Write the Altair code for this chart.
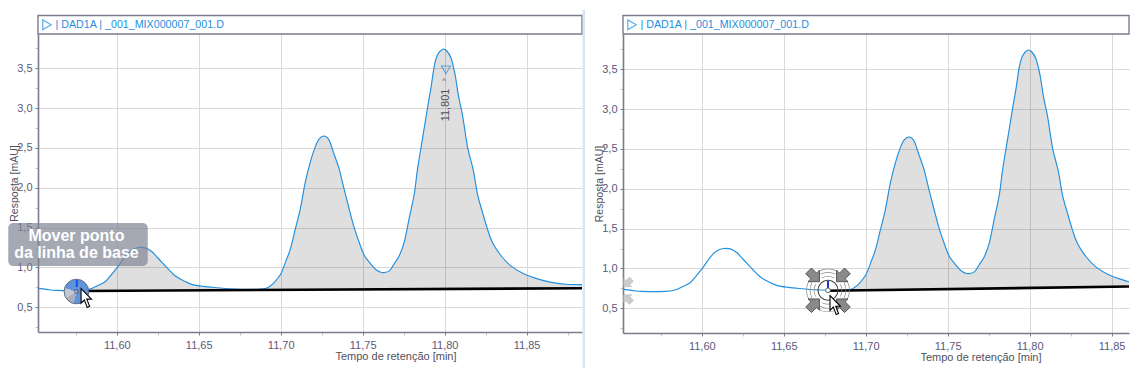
import altair as alt
import pandas as pd

# --- chromatogram trace
trace_t = [11.5522, 11.5573, 11.5634, 11.5776, 11.5837, 11.5878, 11.5929, 11.597, 11.601, 11.605,
           11.6091, 11.6132, 11.6173, 11.6213, 11.6254, 11.6305, 11.6356, 11.6407, 11.6457, 11.6528,
           11.661, 11.6691, 11.6762, 11.6854, 11.6905, 11.6929, 11.696, 11.70, 11.703, 11.706,
           11.709, 11.712, 11.715, 11.718, 11.721, 11.7234, 11.7264, 11.7295, 11.7325, 11.7356,
           11.7386, 11.7417, 11.7447, 11.7478, 11.7508, 11.7539, 11.758, 11.7605, 11.763, 11.7665, 11.769,
           11.7724, 11.7754, 11.7785, 11.7815, 11.7835, 11.7866, 11.7896, 11.7917, 11.7937, 11.7957,
           11.7988, 11.8012, 11.8039, 11.8063, 11.8085, 11.811, 11.814, 11.8175, 11.82, 11.823,
           11.826, 11.829, 11.8343, 11.8404, 11.8486, 11.8577, 11.866, 11.874, 11.8838]
trace_r = [0.7375, 0.725, 0.7125, 0.7125, 0.73, 0.767, 0.82, 0.917, 1.02, 1.1375,
           1.22, 1.25, 1.246, 1.20, 1.1125, 1.0, 0.896, 0.833, 0.7875, 0.7625,
           0.746, 0.733, 0.727, 0.725, 0.735, 0.758, 0.81, 0.917, 1.07, 1.24,
           1.49, 1.74, 2.07, 2.32, 2.51, 2.61, 2.65, 2.60, 2.425, 2.24,
           1.99, 1.74, 1.51, 1.32, 1.16, 1.07, 0.975, 0.945, 0.935, 0.96, 1.04,
           1.15, 1.32, 1.63, 1.925, 2.24, 2.63, 3.01, 3.26, 3.53, 3.67,
           3.74, 3.72, 3.63, 3.43, 3.15, 2.90, 2.51, 2.22, 1.925, 1.70,
           1.49, 1.32, 1.15, 1.02, 0.917, 0.85, 0.81, 0.79, 0.785]

header_label = "| DAD1A | _001_MIX000007_001.D"
x_title = "Tempo de retenção [min]"
y_title = "Resposta [mAU]"
y_ticks = [0.25, 0.5, 0.75, 1.0, 1.25, 1.5, 1.75, 2.0, 2.25, 2.5, 2.75, 3.0, 3.25, 3.5, 3.75]
x_ticks_left = [11.575, 11.6, 11.625, 11.65, 11.675, 11.7, 11.725, 11.75, 11.775, 11.8, 11.825, 11.85, 11.875]
x_ticks_right = [11.575, 11.6, 11.625, 11.65, 11.675, 11.7, 11.725, 11.75, 11.775, 11.8, 11.825, 11.85]

# panel-specific settings, in data units
left_x = [11.55195, 11.8838]
left_y = [0.19, 3.9305]
right_x = [11.55195, 11.8606]
right_y = [0.19, 3.943]
left_base = [11.5787, 0.705, 11.8838, 0.74]
right_base = [11.677, 0.72, 11.8667, 0.775]

BLUE = "#1f8fdf"
FONT = "Liberation Sans"
AXIS = "#787c8e"


def panel(domain_x, domain_y, ticks, base):
    trace = pd.DataFrame({"x": trace_t, "y": trace_r})
    major_x = "abs(round(datum.value*1000) % 50) < 1"
    major_y = "abs(round(datum.value*100) % 50) < 1"
    ax = alt.Axis(values=ticks, grid=True, gridColor="#d9d9d9", gridWidth=1,
                  gridOpacity=alt.expr(f"{major_x} ? 1 : 0"),
                  labelExpr=f"{major_x} ? replace(format(datum.value,'.2f'),'.',',') : ''",
                  labelFont=FONT, labelFontSize=11, labelColor="#5b587a", labelPadding=4,
                  tickSize=3, tickColor=alt.expr(f"{major_x} ? '#787c8e' : '#c4c4c4'"),
                  domainColor=AXIS, domainWidth=1.6, title=x_title, titleFont=FONT,
                  titleFontSize=11, titleFontWeight="normal", titleColor="#50505c",
                  titleX=357.5, titleY=18, labelOverlap=False)
    ay = alt.Axis(values=y_ticks, grid=True, gridColor="#d9d9d9", gridWidth=1,
                  gridOpacity=alt.expr(f"{major_y} ? 1 : 0"),
                  labelExpr=f"{major_y} ? replace(format(datum.value,'.1f'),'.',',') : ''",
                  labelFont=FONT, labelFontSize=11, labelColor="#5b587a", labelPadding=3,
                  tickSize=3, tickColor=alt.expr(f"{major_y} ? '#787c8e' : '#c4c4c4'"),
                  domainColor=AXIS, domainWidth=1.6, title=y_title, titleFont=FONT,
                  titleFontSize=10.5, titleFontWeight="normal", titleColor="#50505c",
                  titleX=-19, labelOverlap=False)
    x_enc = alt.X("x:Q", scale=alt.Scale(domain=domain_x, nice=False, zero=False), axis=ax)
    y_enc = alt.Y("y:Q", scale=alt.Scale(domain=domain_y, nice=False, zero=False), axis=ay)
    x0, y0, x1, y1 = base
    calc = f"{y0}+(datum.x-{x0})*({y1}-{y0})/({x1}-{x0})"

    area = (alt.Chart(trace).transform_filter(f"datum.x>={x0}").transform_calculate(b=calc)
            .mark_area(color="#000000", opacity=0.125, clip=True, interpolate="cardinal")
            .encode(x=x_enc, y=y_enc, y2="b:Q"))
    line = alt.Chart(trace).mark_line(color=BLUE, strokeWidth=1.15, clip=True, interpolate="cardinal").encode(x=x_enc, y=y_enc)
    baseline = (alt.Chart(pd.DataFrame({"x": [x0, x1], "y": [y0, y1]}))
                .mark_line(color="#000000", strokeWidth=2.6, clip=True).encode(x=x_enc, y=y_enc))

    # header strip above the plot
    head_top = domain_y[1] + 18.5 / 79.67
    head = (alt.Chart(pd.DataFrame({"x": [domain_x[0]], "x2": [domain_x[1]], "y": [domain_y[1]], "y2": [head_top]}))
            .mark_rect(fill="#ffffff", stroke=AXIS, strokeWidth=1.4).encode(x=x_enc, x2="x2:Q", y=y_enc, y2="y2:Q"))
    head_y = (domain_y[1] + head_top) / 2
    tri = (alt.Chart(pd.DataFrame({"x": [domain_x[0] + 9 / 1640], "y": [head_y]}))
           .mark_point(shape="triangle-right", size=95, color=BLUE, strokeWidth=1.2, filled=False)
           .encode(x=x_enc, y=y_enc))
    head_txt = (alt.Chart(pd.DataFrame({"x": [domain_x[0] + 17.5 / 1640], "y": [head_y], "t": [header_label]}))
                .mark_text(align="left", baseline="middle", font=FONT, fontSize=10.7, color=BLUE)
                .encode(x=x_enc, y=y_enc, text="t:N"))
    return [head, area, line, baseline, tri, head_txt], x_enc, y_enc


PATH_CURSOR = "M-0.6,-1 L-0.6,0.55 L-0.25,0.2 L0.05,1 L0.3,0.88 L0,0.12 L0.5,0.12 Z"
PATH_ARROW = "M0,-1 L1,0 L0.5,0 L0.5,0.9 L-0.5,0.9 L-0.5,0 L-1,0 Z"


def arcs(df, x_enc, y_enc):
    return alt.Chart(df).mark_arc().encode(
        x=x_enc, y=y_enc,
        theta=alt.Theta("t:Q", scale=None), theta2="t2:Q",
        radius=alt.Radius("r:Q", scale=None), radius2="r2:Q",
        color=alt.Color("c:N", scale=None))


def cursor(xv, yv, x_enc, y_enc):
    return (alt.Chart(pd.DataFrame({"x": [xv], "y": [yv]}))
            .mark_point(shape=PATH_CURSOR, size=360, filled=True, fill="#ffffff", stroke="#000000", strokeWidth=1.1, opacity=1)
            .encode(x=x_enc, y=y_enc))


# ---------- left panel
layers_l, xl, yl = panel(left_x, left_y, x_ticks_left, left_base)

sep = (alt.Chart(pd.DataFrame({"x": [11.8849], "y": [left_y[1] + 24.5 / 79.67], "y2": [left_y[0] - 36 / 79.67]}))
       .mark_rule(color="#dbe5f1", strokeWidth=2.5).encode(x=xl, y=yl, y2="y2:Q"))
peak_tri = (alt.Chart(pd.DataFrame({"x": [11.8008], "y": [3.48]}))
            .mark_point(shape="triangle-down", size=80, color=BLUE, strokeWidth=1.1, filled=False).encode(x=xl, y=yl))
peak_txt = (alt.Chart(pd.DataFrame({"x": [11.8007], "y": [3.04], "t": ["11,801"]}))
            .mark_text(angle=270, font=FONT, fontSize=11, color="#50505c", baseline="middle").encode(x=xl, y=yl, text="t:N"))
peak_car = (alt.Chart(pd.DataFrame({"x": [11.7995], "y": [3.34], "t": ["^"]}))
            .mark_text(font=FONT, fontSize=8, color="#50505c", baseline="middle").encode(x=xl, y=yl, text="t:N"))
box = (alt.Chart(pd.DataFrame({"x": [11.5338], "x2": [11.6189], "y": [1.018], "y2": [1.558]}))
       .mark_rect(fill="#7f8594", opacity=0.7, cornerRadius=5).encode(x=xl, x2="x2:Q", y=yl, y2="y2:Q"))
box_txt = (alt.Chart(pd.DataFrame({"x": [11.5754, 11.5754], "y": [1.395, 1.181],
                                   "t": ["Mover ponto", "da linha de base"]}))
           .mark_text(font=FONT, fontSize=16, fontWeight="bold", color="#ffffff", baseline="middle")
           .encode(x=xl, y=yl, text="t:N"))
deg = 3.14159265 / 180
disc_l = arcs(pd.DataFrame({
    "x": [11.5754] * 3, "y": [0.698] * 3,
    "t": [-75 * deg, 195 * deg, 240 * deg], "t2": [195 * deg, 240 * deg, 285 * deg],
    "r": [12.3] * 3, "r2": [0.0] * 3, "c": ["#5f93dc", "#a9b0bc", "#c3c9d4"]}), xl, yl)
ring_l = (alt.Chart(pd.DataFrame({"x": [11.5754], "y": [0.698]}))
          .mark_point(shape="circle", size=605, filled=False, color="#5e6a80", strokeWidth=1, opacity=1).encode(x=xl, y=yl))
tick_l = (alt.Chart(pd.DataFrame({"x": [11.5756], "y": [0.843], "y2": [0.755]}))
          .mark_rule(color="#1a50e0", strokeWidth=2).encode(x=xl, y=yl, y2="y2:Q"))
dot_l = (alt.Chart(pd.DataFrame({"x": [11.5754], "y": [0.698]}))
         .mark_point(shape="circle", size=16, filled=False, color="#666666", strokeWidth=1, opacity=1).encode(x=xl, y=yl))

left = alt.layer(*layers_l, sep, peak_tri, peak_txt, peak_car, disc_l, ring_l, tick_l, dot_l,
                 box, box_txt, cursor(11.5817, 0.617, xl, yl)).properties(width=544, height=298)

# ---------- right panel
layers_r, xr, yr = panel(right_x, right_y, x_ticks_right, right_base)

hx, hy = 11.677, 0.726
rings = []
for r in [13.5, 17.5, 21.0]:
    for c in [0, 90, 180, 270]:
        rings.append({"x": hx, "y": hy, "t": (c - 26) * deg, "t2": (c + 26) * deg, "r": r + 0.7, "r2": r, "c": "#8a8a8a"})
ring_arcs = arcs(pd.DataFrame(rings), xr, yr)
circle_r = (alt.Chart(pd.DataFrame({"x": [hx], "y": [hy]}))
            .mark_point(shape="circle", size=400, filled=False, color="#444444", strokeWidth=1.1, opacity=1).encode(x=xr, y=yr))
arrow_df = pd.DataFrame({"x": [11.6683, 11.6857, 11.6857, 11.6683], "y": [0.9055, 0.9055, 0.5465, 0.5465],
                         "a": [135, 225, 315, 45]})
arrows = (alt.Chart(arrow_df)
          .mark_point(shape=PATH_ARROW, size=260, filled=True, fill="#8a8a8a", stroke="#444444", strokeWidth=0.8, opacity=1)
          .encode(x=xr, y=yr, angle=alt.Angle("a:Q", scale=None)))
ghost_df = pd.DataFrame({"x": [11.5549, 11.5549], "y": [0.821, 0.62], "a": [225, 315]})
ghosts = (alt.Chart(ghost_df)
          .mark_point(shape=PATH_ARROW, size=130, filled=True, fill="#cccccc", stroke="#c0c0c0", strokeWidth=0.6, opacity=1)
          .encode(x=xr, y=yr, angle=alt.Angle("a:Q", scale=None)))
tick_r = (alt.Chart(pd.DataFrame({"x": [hx], "y": [0.843], "y2": [0.7475]}))
          .mark_rule(color="#1a30e0", strokeWidth=2).encode(x=xr, y=yr, y2="y2:Q"))
dot_r = (alt.Chart(pd.DataFrame({"x": [hx], "y": [hy]}))
         .mark_point(shape="circle", size=22, filled=True, fill="#ffffff", stroke="#666666", strokeWidth=1, opacity=1).encode(x=xr, y=yr))

right = alt.layer(*layers_r, ring_arcs, circle_r, arrows, ghosts, tick_r, dot_r,
                  cursor(11.6817, 0.54, xr, yr)).properties(width=506, height=299)

chart = (alt.hconcat(left, right, spacing=8)
         .resolve_scale(x="independent", y="independent")
         .properties(padding={"left": 0, "top": 0, "right": 0, "bottom": 0})
         .configure_view(stroke=None))

chart.save("out.html", embed_options={"renderer": "svg", "actions": False})
